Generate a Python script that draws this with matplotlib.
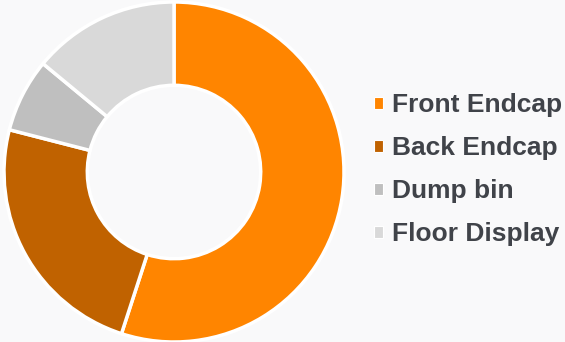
import matplotlib
matplotlib.use("Agg")
import matplotlib.pyplot as plt
from matplotlib.patches import Patch

categories = ["Front Endcap", "Back Endcap", "Dump bin", "Floor Display"]
values = [55, 24, 7, 14]
colors = ["#FF8500", "#C06200", "#BFBFBF", "#D9D9D9"]

W, H = 565, 342
fig = plt.figure(figsize=(W / 100, H / 100), dpi=100)
fig.patch.set_facecolor("#F9F9FA")

cx, cy, r = 174, 170, 170
ax = fig.add_axes([(cx - r) / W, (cy - r) / H, 2 * r / W, 2 * r / H])
ax.set_facecolor("none")
ax.pie(values, colors=colors, startangle=90, counterclock=False, radius=1,
       wedgeprops=dict(width=0.49, edgecolor="white", linewidth=2.5))
ax.set_xlim(-1, 1)
ax.set_ylim(-1, 1)
ax.set_aspect("equal")
ax.axis("off")

handles = [Patch(facecolor=c, edgecolor="white", linewidth=0.8) for c in colors]
leg = fig.legend(handles, categories, loc="center left",
                 bbox_to_anchor=(374 / W, 1 - 170 / H), frameon=False,
                 prop=dict(family="Liberation Sans", weight="bold", size=19),
                 handlelength=0.35, handleheight=0.35, handletextpad=0.33,
                 labelspacing=0.72, borderaxespad=0, borderpad=0)
for t in leg.get_texts():
    t.set_color("#404349")

fig.savefig("out.png", dpi=100, facecolor=fig.get_facecolor())
